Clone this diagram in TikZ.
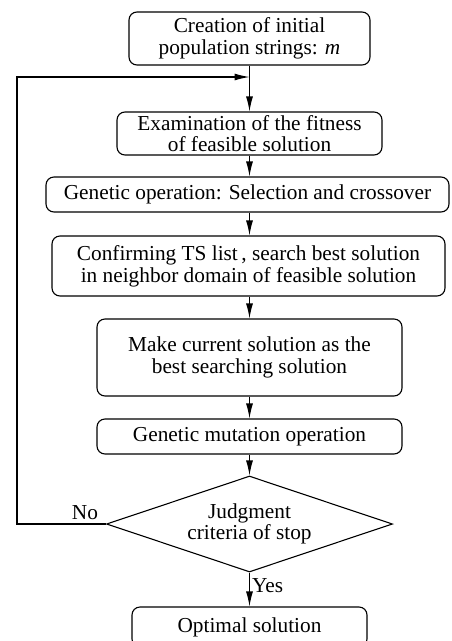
\documentclass[tikz,border=0pt]{standalone}
\usepackage{fontspec}
\setmainfont{Liberation Serif}
\usetikzlibrary{shapes.geometric,arrows.meta}
\begin{document}
\begin{tikzpicture}[x=1pt,y=-1pt,
  every node/.style={font=\fontsize{21.3}{21.6}\selectfont},
  proc/.style={draw,line width=1.1pt,rounded corners=8pt,align=center,inner sep=0pt},
  dec/.style={draw,line width=1.1pt,diamond,align=center,inner sep=0pt,aspect=2.98},
  flow/.style={line width=1.1pt,-{Latex[length=15pt,width=7pt]}},
  plain/.style={line width=1.1pt},
  lbl/.style={inner sep=0pt}]
\useasboundingbox (0,0) rectangle (451,641);
\clip (0,0) rectangle (451,641);
\node[proc,minimum width=241pt,minimum height=53pt] (b1) at (249.5,38.5) {Creation of initial\\population strings: \textit{m}};
\node[proc,minimum width=265pt,minimum height=43pt] (b2) at (249.5,133.5) {Examination of the fitness\\of feasible solution};
\node[proc,minimum width=403pt,minimum height=35pt] (b3) at (247.5,194.5) {Genetic operation: Selection and crossover};
\node[proc,minimum width=393pt,minimum height=60pt] (b4) at (248.5,266) {Confirming TS list\,, search best solution\\in neighbor domain of feasible solution};
\node[proc,minimum width=305pt,minimum height=77pt] (b5) at (249.5,357.5) {Make current solution as the\\best searching solution};
\node[proc,minimum width=305pt,minimum height=35pt] (b6) at (249.5,436.5) {Genetic mutation operation};
\node[dec,minimum width=286pt,minimum height=96pt] (d) at (249.5,524) {Judgment\\criteria of stop};
\node[proc,minimum width=235pt,minimum height=40pt] (b7) at (249.5,627) {Optimal solution};
\coordinate (j) at (249.5,77);
\coordinate (lb) at (17,524);
\coordinate (lt) at (17,77);
\draw[plain] (b1.south) -- (j);
\draw[flow] (j) -- (b2.north);
\draw[flow] (b2.south) -- (b2.south |- b3.north);
\draw[flow] (b2.south |- b3.south) -- (b2.south |- b4.north);
\draw[flow] (b2.south |- b4.south) -- (b5.north);
\draw[flow] (b5.south) -- (b6.north);
\draw[flow] (b6.south) -- (d.north);
\draw[flow] (d.south) -- (b7.north) node[lbl,pos=0.4,anchor=west,xshift=2pt] (yes) {Yes};
\draw[flow] (d.west) -- (lb) -- (lt) -- (j);
\node[lbl] (no) at (85,513) {No};
\end{tikzpicture}
\end{document}
